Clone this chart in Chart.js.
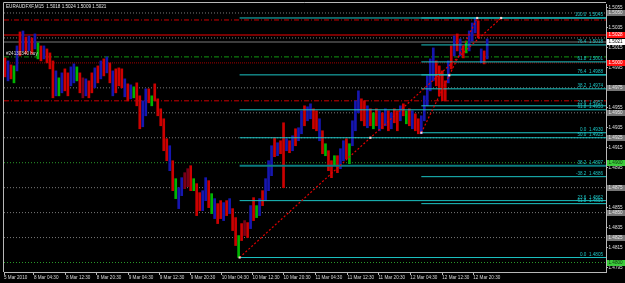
<!DOCTYPE html>
<html>
<head>
<title>EURAUDFXF,M15</title>
<script src="https://cdn.jsdelivr.net/npm/chart.js"></script>
<style>
  html, body { margin: 0; padding: 0; background: #000; }
  #wrap { width: 625px; height: 283px; }
</style>
</head>
<body>
<div id="wrap"><canvas id="priceChart" width="625" height="283"></canvas></div>
<script>
// M15 candles, one column per 3 bars (high / low / colour code)
const highs = [
  1.5005, 1.5002, 1.4998, 1.4997, 1.5017, 1.5031, 1.5032, 1.5026, 1.5027, 1.5025,
  1.5029, 1.5020, 1.5017, 1.5017, 1.5014, 1.5010, 1.5002, 1.4992, 1.4985, 1.4990,
  1.4994, 1.4990, 1.4996, 1.4999, 1.4996, 1.4990, 1.4985, 1.4984, 1.4982, 1.4990,
  1.4995, 1.4997, 1.5002, 1.5004, 1.5006, 1.5000, 1.4992, 1.4994, 1.4995, 1.4994,
  1.4984, 1.4979, 1.4978, 1.4976, 1.4980, 1.4967, 1.4962, 1.4974, 1.4974, 1.4967,
  1.4979, 1.4964, 1.4954, 1.4944, 1.4924, 1.4917, 1.4902, 1.4884, 1.4875, 1.4885,
  1.4890, 1.4894, 1.4897, 1.4884, 1.4879, 1.4870, 1.4872, 1.4885, 1.4882, 1.4869,
  1.4864, 1.4859, 1.4862, 1.4860, 1.4862, 1.4864, 1.4854, 1.4845, 1.4827, 1.4839,
  1.4842, 1.4840, 1.4857, 1.4865, 1.4857, 1.4864, 1.4872, 1.4884, 1.4902, 1.4917,
  1.4925, 1.4920, 1.4922, 1.4940, 1.4924, 1.4922, 1.4927, 1.4934, 1.4935, 1.4952,
  1.4957, 1.4956, 1.4959, 1.4954, 1.4952, 1.4944, 1.4932, 1.4919, 1.4912, 1.4902,
  1.4907, 1.4907, 1.4914, 1.4922, 1.4924, 1.4919, 1.4942, 1.4962, 1.4972, 1.4964,
  1.4962, 1.4957, 1.4954, 1.4950, 1.4954, 1.4952, 1.4950, 1.4954, 1.4952, 1.4950,
  1.4954, 1.4952, 1.4957, 1.4959, 1.4952, 1.4954, 1.4952, 1.4949, 1.4944, 1.4947,
  1.4967, 1.4987, 1.5004, 1.5015, 1.5002, 1.4997, 1.4992, 1.4982, 1.5002, 1.5017,
  1.5027, 1.5029, 1.5024, 1.5017, 1.5022, 1.5032, 1.5040, 1.5045, 1.5042, 1.5014,
  1.5012, 1.5024
];
const lows = [
  1.4986, 1.4982, 1.4984, 1.4980, 1.4992, 1.5007, 1.5012, 1.5009, 1.5012, 1.5009,
  1.5014, 1.5004, 1.5002, 1.5004, 1.5000, 1.4994, 1.4965, 1.4967, 1.4967, 1.4970,
  1.4972, 1.4967, 1.4977, 1.4980, 1.4982, 1.4970, 1.4965, 1.4967, 1.4965, 1.4970,
  1.4975, 1.4980, 1.4984, 1.4987, 1.4990, 1.4980, 1.4967, 1.4970, 1.4977, 1.4975,
  1.4966, 1.4962, 1.4964, 1.4965, 1.4957, 1.4934, 1.4936, 1.4947, 1.4960, 1.4957,
  1.4962, 1.4947, 1.4937, 1.4912, 1.4902, 1.4892, 1.4872, 1.4864, 1.4854, 1.4867,
  1.4874, 1.4876, 1.4872, 1.4872, 1.4847, 1.4852, 1.4852, 1.4862, 1.4855, 1.4849,
  1.4844, 1.4839, 1.4844, 1.4842, 1.4847, 1.4849, 1.4832, 1.4817, 1.4805, 1.4822,
  1.4827, 1.4825, 1.4834, 1.4842, 1.4845, 1.4847, 1.4857, 1.4862, 1.4872, 1.4887,
  1.4906, 1.4907, 1.4909, 1.4875, 1.4912, 1.4910, 1.4912, 1.4917, 1.4922, 1.4929,
  1.4937, 1.4942, 1.4944, 1.4934, 1.4932, 1.4922, 1.4909, 1.4907, 1.4892, 1.4885,
  1.4897, 1.4890, 1.4894, 1.4902, 1.4904, 1.4899, 1.4917, 1.4932, 1.4950, 1.4942,
  1.4937, 1.4935, 1.4937, 1.4934, 1.4937, 1.4932, 1.4934, 1.4937, 1.4932, 1.4934,
  1.4940, 1.4932, 1.4942, 1.4947, 1.4939, 1.4937, 1.4934, 1.4932, 1.4929, 1.4929,
  1.4942, 1.4957, 1.4972, 1.4982, 1.4977, 1.4967, 1.4962, 1.4962, 1.4980, 1.4994,
  1.5007, 1.5012, 1.5007, 1.5005, 1.5010, 1.5012, 1.5022, 1.5030, 1.5025, 1.5000,
  1.4999, 1.5004
];
const kinds = [
  'r','b','r','g','b','r','b','r','b','r',  'b','g','r','b','r','r','r','b','g','b',
  'r','r','b','b','g','r','d','b','r','r',  'b','r','b','r','b','r','b','r','r','r',
  'b','r','b','g','r','r','b','b','r','g',  'r','r','r','r','r','b','r','g','b','b',
  'd','d','r','g','r','r','b','b','r','g',  'b','r','r','b','r','b','r','r','g','r',
  'd','r','b','r','g','b','r','b','b','b',  'r','b','r','r','b','r','b','r','b','b',
  'r','b','b','r','r','b','r','g','r','r',  'g','r','b','b','r','g','b','b','b','r',
  'r','b','r','g','r','b','r','b','r','b',  'r','r','b','r','g','r','b','r','r','b',
  'b','b','b','b','r','r','r','r','b','r',  'b','r','b','r','g','b','b','b','r','b',
  'r','b'
];

// time axis (x in bar slots)
const timeLabels = ['5 Mar 2010', '8 Mar 04:30', '8 Mar 12:30', '8 Mar 20:30', '9 Mar 04:30', '9 Mar 12:30',
  '9 Mar 20:30', '10 Mar 04:30', '10 Mar 12:30', '10 Mar 20:30', '11 Mar 04:30', '11 Mar 12:30',
  '11 Mar 20:30', '12 Mar 04:30', '12 Mar 12:30', '12 Mar 20:30'];
const timeSlots = [0, 30, 62, 93, 125, 156, 187, 218, 249, 280, 312, 344, 375, 407, 439, 470];
const lastSlot = 603;

// price axis
const priceTicks = [1.4795, 1.4815, 1.4835, 1.4855, 1.4875, 1.4895, 1.4915, 1.4935, 1.4955,
  1.4975, 1.4995, 1.5015, 1.5035, 1.5055];

// round levels
const grayLevels = [1.5050, 1.5025, 1.4975, 1.4950, 1.4925, 1.4875, 1.4850, 1.4825];
const greenLevels = [1.4900, 1.4800];
const redDotLevel = 1.5000;

// order / trade lines
const stopLevels = [1.5043, 1.4962];
const takeLevel = 1.5028;
const bidPrice = 1.5021;
const orderPrice = 1.5006;
const orderText = '#24130340 buy';

// right axis price boxes
const boxPrices = [1.5050, 1.5028, 1.5021, 1.5000, 1.4975, 1.4950, 1.4925, 1.4900, 1.4875, 1.4850, 1.4825, 1.4800];
const boxKinds = ['gray', 'red', 'white', 'red', 'gray', 'gray', 'gray', 'green', 'gray', 'gray', 'gray', 'green'];

// fibonacci retracements
const fibALevels = ['100.0', '76.4', '61.8', '50.0', '38.2', '23.6', '0.0'];
const fibAPrices = [1.5045, 1.4988, 1.4953, 1.4925, 1.4897, 1.4862, 1.4805];
const fibAStart = 236;
const fibATrendX = [236, 367, 498];
const fibATrendY = [1.4805, 1.4925, 1.5045];

const fibBLevels = ['100.0', '76.4', '61.8', '50.0', '38.2', '23.6', '0.0', '-38.2', '-61.8'];
const fibBPrices = [1.5045, 1.5018, 1.5001, 1.4988, 1.4974, 1.4957, 1.4930, 1.4886, 1.4859];
const fibBStart = 418;
const fibBTrendX = [418, 446, 474];
const fibBTrendY = [1.4930, 1.49875, 1.5045];

const title = 'EURAUDFXF,M15  1.5018 1.5024 1.5009 1.5021';

const palette = { r: '#cc0000', b: '#1616b0', g: '#00b400', d: '#7a0018' };
const cyan = '#1cc4c4';
const tinyFont = 'Liberation Sans';

function hline(price, from, color, dash, width, order) {
    return {
        type: 'line',
        data: [{ x: from, y: price }, { x: lastSlot, y: price }],
        borderColor: color,
        borderDash: dash,
        borderWidth: width,
        pointRadius: 0,
        order: order
    };
}

const datasets = [];

// levels behind the candles
grayLevels.forEach(p => datasets.push(hline(p, 0, '#7a7a7a', [1, 2], 1, 5)));
greenLevels.forEach(p => datasets.push(hline(p, 0, '#2a9a2a', [1, 2], 1, 5)));
datasets.push(hline(redDotLevel, 0, '#a00000', [1, 1], 1, 5));
stopLevels.forEach(p => datasets.push(hline(p, 0, '#cc0000', [5, 2, 1, 2], 1, 4)));
datasets.push(hline(takeLevel, 0, '#780000', [], 2, 4));
datasets.push(hline(bidPrice, 0, '#3c3c3c', [], 2, 4));
datasets.push(hline(orderPrice, 0, '#129612', [5, 2, 1, 2], 1, 4));

// candles
datasets.push({
    type: 'bar',
    data: highs.map((h, i) => ({ x: 1 + 3 * i, y: [lows[i], h] })),
    backgroundColor: kinds.map(k => palette[k]),
    barThickness: 2,
    borderWidth: 0,
    order: 3
});

// fibonacci levels on top
fibAPrices.forEach((p, i) => {
    const dark = fibALevels[i] === '38.2';
    datasets.push(hline(p, fibAStart, dark ? '#0b7c80' : cyan, [], dark ? 2 : 1, 2));
});
fibBPrices.forEach(p => datasets.push(hline(p, fibBStart, cyan, [], 1, 2)));

// fibonacci base lines
[[fibATrendX, fibATrendY], [fibBTrendX, fibBTrendY]].forEach(([xs, ys]) => {
    datasets.push({
        type: 'line',
        data: xs.map((x, i) => ({ x: x, y: ys[i] })),
        borderColor: '#e00000',
        borderDash: [2, 2],
        borderWidth: 1.2,
        pointRadius: 1.5,
        pointStyle: 'rect',
        pointBackgroundColor: '#ffd6d6',
        pointBorderWidth: 0,
        order: 1
    });
});

const overlay = {
    id: 'overlay',
    beforeDraw(chart) {
        const c = chart.ctx;
        c.save();
        c.fillStyle = '#000';
        c.fillRect(0, 0, chart.width, chart.height);
        c.restore();
    },
    afterDraw(chart) {
        const c = chart.ctx, y = chart.scales.y, a = chart.chartArea;
        c.save();
        // window frame, left and top
        c.strokeStyle = '#b8b8b8';
        c.lineWidth = 1;
        c.beginPath();
        c.moveTo(a.left - 0.5, a.bottom);
        c.lineTo(a.left - 0.5, a.top - 1.5);
        c.lineTo(a.right, a.top - 1.5);
        c.stroke();

        c.font = '4.6px ' + tinyFont;
        c.textBaseline = 'middle';
        c.textAlign = 'left';
        c.fillStyle = '#e6e6e6';
        c.fillText(title, a.left + 2, a.top + 3);

        c.textBaseline = 'bottom';
        c.fillStyle = '#dcdcdc';
        c.fillText(orderText, a.left + 2, y.getPixelForValue(orderPrice) - 0.5);

        // fib labels
        c.textAlign = 'right';
        c.fillStyle = cyan;
        fibAPrices.forEach((p, i) => c.fillText(fibALevels[i] + '  ' + p.toFixed(4), a.right - 3, y.getPixelForValue(p) - 0.5));
        fibBPrices.forEach((p, i) => {
            if (fibAPrices.includes(p)) return;
            c.fillText(fibBLevels[i] + '  ' + p.toFixed(4), a.right - 3, y.getPixelForValue(p) - 0.5);
        });

        // price boxes on the right axis
        const boxStyle = {
            gray: ['#767676', '#e8e8e8'],
            red: ['#ff1010', '#ffffff'],
            white: ['#ffffff', '#000000'],
            green: ['#3ccc3c', '#0a300a']
        };
        c.textAlign = 'left';
        c.textBaseline = 'middle';
        boxPrices.forEach((p, i) => {
            const py = Math.round(y.getPixelForValue(p));
            const st = boxStyle[boxKinds[i]];
            c.fillStyle = st[0];
            c.fillRect(a.right + 1, py - 3, 18, 6);
            c.fillStyle = st[1];
            c.fillText(p.toFixed(4), a.right + 2.5, py);
        });
        c.restore();
    }
};

const ctx = document.getElementById('priceChart').getContext('2d');
const priceChart = new Chart(ctx, {
    type: 'bar',
    data: { datasets: datasets },
    options: {
        responsive: false,
        animation: false,
        devicePixelRatio: 1,
        layout: { padding: { left: 3, top: 3.5, right: 0, bottom: 0 } },
        plugins: { legend: { display: false }, tooltip: { enabled: false } },
        scales: {
            x: {
                type: 'linear',
                min: 0,
                max: lastSlot,
                offset: false,
                afterFit: s => { s.height = 11; },
                afterBuildTicks: s => { s.ticks = timeSlots.map(v => ({ value: v })); },
                grid: { drawOnChartArea: false, offset: false, tickLength: 3, color: '#b8b8b8' },
                border: { color: '#b8b8b8' },
                ticks: {
                    callback: (v, i) => timeLabels[i],
                    font: { size: 4.6, family: tinyFont },
                    color: '#d8d8d8',
                    align: 'start',
                    maxRotation: 0,
                    autoSkip: false,
                    padding: 0
                }
            },
            y: {
                position: 'right',
                min: 1.47905,
                max: 1.5059,
                afterFit: s => { s.width = 19; },
                afterBuildTicks: s => { s.ticks = priceTicks.map(v => ({ value: v })); },
                grid: { drawOnChartArea: false, tickLength: 2, color: '#b8b8b8' },
                border: { color: '#b8b8b8' },
                ticks: {
                    callback: v => v.toFixed(4),
                    font: { size: 4.6, family: tinyFont },
                    color: '#e0e0e0',
                    autoSkip: false,
                    padding: 0.5
                }
            }
        }
    },
    plugins: [overlay]
});
</script>
</body>
</html>
